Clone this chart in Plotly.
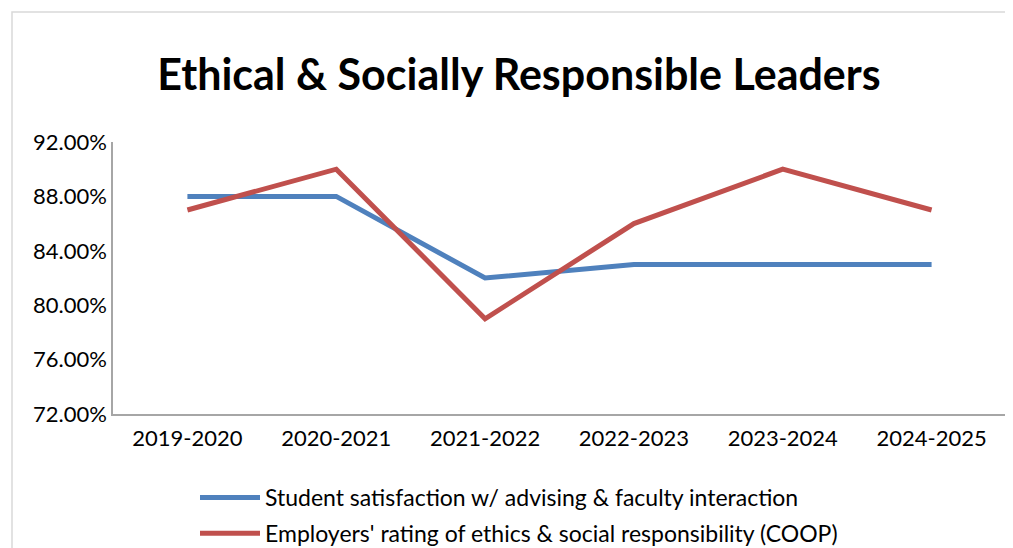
import plotly.graph_objects as go

years = ["2019-2020", "2020-2021", "2021-2022", "2022-2023", "2023-2024", "2024-2025"]
student_satisfaction = [0.88, 0.88, 0.82, 0.83, 0.83, 0.83]
employer_rating = [0.87, 0.90, 0.79, 0.86, 0.90, 0.87]
y_ticks = [0.72, 0.76, 0.80, 0.84, 0.88, 0.92]

FONT = "Lato"

fig = go.Figure()
fig.add_trace(go.Scatter(
    x=years, y=student_satisfaction, mode="lines",
    name="Student satisfaction w/ advising & faculty interaction",
    line=dict(color="#4F81BD", width=5), legendgroup="a",
))
fig.add_trace(go.Scatter(
    x=years, y=employer_rating, mode="lines",
    name="Employers' rating of ethics & social responsibility (COOP)",
    line=dict(color="#C0504D", width=5), legendgroup="b",
))

# page body has an 8px margin; work in reference pixels and shift
OFF = 8
W, H = 1013 - OFF, 548 - OFF
ml, mt = 113 - OFF, 142 - OFF
mr = 1013 - 1006
mb = (548 - OFF) - (414 - OFF)
pw, ph = W - ml - mr, H - mt - mb

def px_x(p):
    return (p - OFF - ml) / pw

def px_y(p):
    return 1 + (mt - (p - OFF)) / ph

fig.update_layout(
    width=W, height=H,
    margin=dict(l=ml, r=mr, t=mt, b=mb, pad=0, autoexpand=False),
    paper_bgcolor="white", plot_bgcolor="white",
    font=dict(family=FONT, color="#000000", size=22),
    title=dict(text="<b>Ethical & Socially Responsible Leaders</b>",
               font=dict(family=FONT, size=43, color="#000000"),
               x=(519 - OFF) / W, xanchor="center",
               y=1 - (75 - OFF) / H, yanchor="middle",
               xref="container", yref="container"),
    xaxis=dict(range=[-0.5, 5.5], showgrid=False, zeroline=False,
               showline=True, linecolor="#a6a6a6", linewidth=1.5,
               ticks="", tickfont=dict(family=FONT, size=22),
               ticklabelstandoff=4),
    yaxis=dict(range=[0.72, 0.92], tickvals=y_ticks, tickformat=".2%",
               showgrid=False, zeroline=False,
               showline=True, linecolor="#a6a6a6", linewidth=1.5,
               ticks="", tickfont=dict(family=FONT, size=22),
               ticklabelstandoff=0),
    showlegend=True,
    legend=dict(x=px_x(195), y=px_y(476), xanchor="left", yanchor="top",
                font=dict(family=FONT, size=23), itemwidth=60,
                traceorder="grouped", tracegroupgap=3,
                bgcolor="rgba(0,0,0,0)"),
    shapes=[dict(type="rect", xref="paper", yref="paper",
                 x0=px_x(12), x1=px_x(1100), y0=px_y(700), y1=px_y(12),
                 line=dict(color="#d9d9d9", width=1.5), layer="below")],
)

fig.write_html("out.html")
